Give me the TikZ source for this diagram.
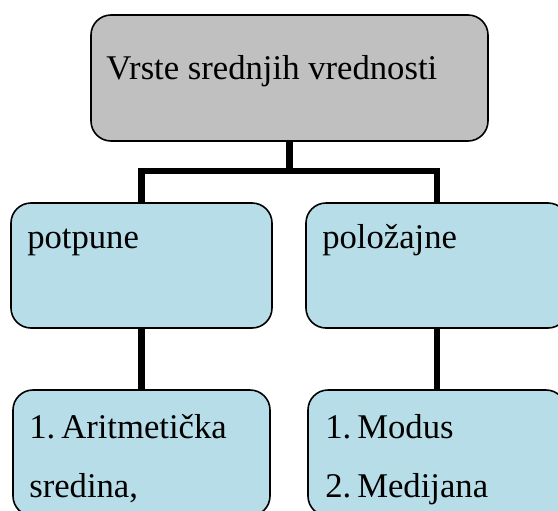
\documentclass[tikz,border=0pt]{standalone}
\usepackage{fontspec}
\setmainfont{Liberation Serif}
\usepackage{xcolor}
\usepackage{tikz}
\usetikzlibrary{calc}

\definecolor{boxgray}{HTML}{C0C0C0}
\definecolor{boxblue}{HTML}{B7DEE8}

\begin{document}
\begin{tikzpicture}[x=0.75pt,y=-0.75pt,
  box/.style={draw,line width=1.2pt,rounded corners=15pt,inner sep=0pt,outer sep=0pt},
  word/.style={anchor=base west,inner sep=0pt,font=\fontsize{26}{30}\selectfont},
  link/.style={line width=5.2pt,line join=miter}]
\useasboundingbox (0,0) rectangle (558,511);
\clip (0,0) rectangle (558,511);
% boxes
\node[box,fill=boxgray,minimum width=297.75pt,minimum height=94.5pt] (vrste) at (289.5,78) {};
\node[box,fill=boxblue,minimum width=195.75pt,minimum height=93.75pt] (pot) at (141.5,265.5) {};
\node[box,fill=boxblue,minimum width=196.5pt,minimum height=93.75pt] (pol) at (437,265.5) {};
\node[box,fill=boxblue,minimum width=192.75pt,minimum height=94.5pt] (ari) at (141.5,453) {};
\node[box,fill=boxblue,minimum width=193.5pt,minimum height=94.5pt] (mod) at (437,453) {};
% texts
\node[word] (vrstetxt) at (106,79) {Vrste srednjih vrednosti};
\node[word] (pottxt) at (27,248) {potpune};
\node[word] (poltxt) at (322,248) {položajne};
\node[word] (aritxt) at (29,438) {1.\kern4.5pt Aritmetička};
\node[word] (sredtxt) at (29,497) {sredina,};
\node[word] (modtxt) at (325,438) {1.\kern4.5pt Modus};
\node[word] (medtxt) at (325,497) {2.\kern4.5pt Medijana};
% connectors
\coordinate (fork) at (289.5,171);
\draw[link] (vrste.south) -- (fork);
\draw[link] (pot.north) |- (fork) -| (pol.north);
\draw[link] (pot.south) -- (ari.north);
\draw[link] (pol.south) -- (mod.north);
\end{tikzpicture}
\end{document}
